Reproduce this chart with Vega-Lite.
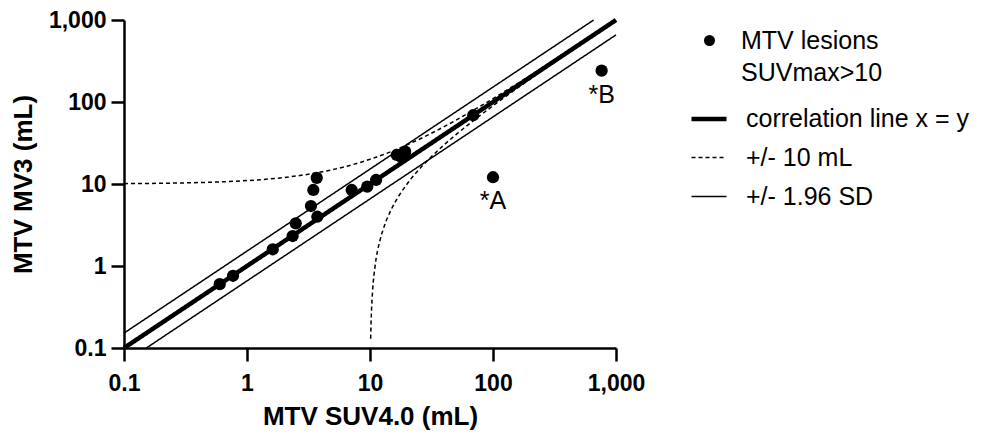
{
  "$schema": "https://vega.github.io/schema/vega-lite/v6.json",
  "width": 492,
  "height": 328,
  "autosize": "none",
  "padding": {"left": 124, "top": 20, "right": 379, "bottom": 94},
  "background": "white",
  "config": {
    "view": {"stroke": null},
    "font": "Liberation Sans",
    "style": {"guide-label": {"lineHeight": 32}},
    "axis": {
      "grid": false,
      "domainColor": "black",
      "domainWidth": 2.5,
      "tickColor": "black",
      "tickWidth": 2.5,
      "tickSize": 13,
      "labelFont": "Liberation Sans",
      "labelFontWeight": "bold",
      "labelFontSize": 23,
      "labelColor": "black",
      "titleFont": "Liberation Sans",
      "titleFontWeight": "bold",
      "titleFontSize": 26,
      "titleColor": "black"
    },
    "legend": {
      "labelFont": "Liberation Sans",
      "labelFontSize": 25,
      "labelColor": "black",
      "labelLimit": 400,
      "padding": 0
    }
  },
  "layer": [
    {
      "data": {"values": [
        {"series": "+/- 10 mL", "grp": "up", "x": 0.1, "y": 10.1},
        {"series": "+/- 10 mL", "grp": "up", "x": 0.2, "y": 10.2},
        {"series": "+/- 10 mL", "grp": "up", "x": 0.5, "y": 10.5},
        {"series": "+/- 10 mL", "grp": "up", "x": 1, "y": 11},
        {"series": "+/- 10 mL", "grp": "up", "x": 2, "y": 12},
        {"series": "+/- 10 mL", "grp": "up", "x": 3, "y": 13},
        {"series": "+/- 10 mL", "grp": "up", "x": 5, "y": 15},
        {"series": "+/- 10 mL", "grp": "up", "x": 7, "y": 17},
        {"series": "+/- 10 mL", "grp": "up", "x": 10, "y": 20},
        {"series": "+/- 10 mL", "grp": "up", "x": 15, "y": 25},
        {"series": "+/- 10 mL", "grp": "up", "x": 20, "y": 30},
        {"series": "+/- 10 mL", "grp": "up", "x": 30, "y": 40},
        {"series": "+/- 10 mL", "grp": "up", "x": 50, "y": 60},
        {"series": "+/- 10 mL", "grp": "up", "x": 70, "y": 80},
        {"series": "+/- 10 mL", "grp": "up", "x": 100, "y": 110},
        {"series": "+/- 10 mL", "grp": "up", "x": 200, "y": 210},
        {"series": "+/- 10 mL", "grp": "up", "x": 500, "y": 510},
        {"series": "+/- 10 mL", "grp": "up", "x": 990, "y": 1000},
        {"series": "+/- 10 mL", "grp": "lo", "x": 10.13, "y": 0.13},
        {"series": "+/- 10 mL", "grp": "lo", "x": 10.2, "y": 0.2},
        {"series": "+/- 10 mL", "grp": "lo", "x": 10.3, "y": 0.3},
        {"series": "+/- 10 mL", "grp": "lo", "x": 10.5, "y": 0.5},
        {"series": "+/- 10 mL", "grp": "lo", "x": 11, "y": 1},
        {"series": "+/- 10 mL", "grp": "lo", "x": 12, "y": 2},
        {"series": "+/- 10 mL", "grp": "lo", "x": 13, "y": 3},
        {"series": "+/- 10 mL", "grp": "lo", "x": 15, "y": 5},
        {"series": "+/- 10 mL", "grp": "lo", "x": 17, "y": 7},
        {"series": "+/- 10 mL", "grp": "lo", "x": 20, "y": 10},
        {"series": "+/- 10 mL", "grp": "lo", "x": 25, "y": 15},
        {"series": "+/- 10 mL", "grp": "lo", "x": 30, "y": 20},
        {"series": "+/- 10 mL", "grp": "lo", "x": 40, "y": 30},
        {"series": "+/- 10 mL", "grp": "lo", "x": 50, "y": 40},
        {"series": "+/- 10 mL", "grp": "lo", "x": 70, "y": 60},
        {"series": "+/- 10 mL", "grp": "lo", "x": 100, "y": 90},
        {"series": "+/- 10 mL", "grp": "lo", "x": 200, "y": 190},
        {"series": "+/- 10 mL", "grp": "lo", "x": 500, "y": 490},
        {"series": "+/- 10 mL", "grp": "lo", "x": 1000, "y": 990},
        {"series": "+/- 1.96 SD", "grp": "sdup", "x": 0.1, "y": 0.152},
        {"series": "+/- 1.96 SD", "grp": "sdup", "x": 658, "y": 1000},
        {"series": "+/- 1.96 SD", "grp": "sdlo", "x": 0.152, "y": 0.1},
        {"series": "+/- 1.96 SD", "grp": "sdlo", "x": 1000, "y": 658},
        {"series": "correlation line x = y", "grp": "id", "x": 0.1, "y": 0.1},
        {"series": "correlation line x = y", "grp": "id", "x": 1000, "y": 1000}
      ]},
      "mark": {"type": "line", "color": "black", "interpolate": "monotone"},
      "encoding": {
        "x": {"field": "x", "type": "quantitative"},
        "y": {"field": "y", "type": "quantitative"},
        "detail": {"field": "grp"},
        "strokeDash": {
          "field": "series", "type": "nominal",
          "scale": {
            "type": "ordinal",
            "domain": ["correlation line x = y", "+/- 10 mL", "+/- 1.96 SD"],
            "range": [[1, 0], [4, 3], [1, 0]]
          },
          "legend": {
            "title": null,
            "orient": "none",
            "legendX": 565,
            "legendY": 79,
            "symbolType": "stroke",
            "symbolSize": 1225,
            "symbolStrokeColor": "black",
            "labelOffset": 17,
            "rowPadding": 7
          }
        },
        "strokeWidth": {
          "field": "series", "type": "nominal",
          "scale": {
            "type": "ordinal",
            "domain": ["correlation line x = y", "+/- 10 mL", "+/- 1.96 SD"],
            "range": [4.5, 1.5, 1.5]
          },
          "legend": {
            "title": null,
            "orient": "none",
            "legendX": 565,
            "legendY": 79,
            "symbolType": "stroke",
            "symbolSize": 1225,
            "symbolStrokeColor": "black",
            "labelOffset": 17,
            "rowPadding": 7
          }
        }
      }
    },
    {
      "data": {"values": [
        {"series": "MTV lesions SUVmax>10", "x": 0.60, "y": 0.60},
        {"series": "MTV lesions SUVmax>10", "x": 0.77, "y": 0.76},
        {"series": "MTV lesions SUVmax>10", "x": 1.62, "y": 1.60},
        {"series": "MTV lesions SUVmax>10", "x": 2.35, "y": 2.32},
        {"series": "MTV lesions SUVmax>10", "x": 2.49, "y": 3.31},
        {"series": "MTV lesions SUVmax>10", "x": 3.31, "y": 5.39},
        {"series": "MTV lesions SUVmax>10", "x": 3.73, "y": 3.99},
        {"series": "MTV lesions SUVmax>10", "x": 3.69, "y": 11.9},
        {"series": "MTV lesions SUVmax>10", "x": 3.46, "y": 8.45},
        {"series": "MTV lesions SUVmax>10", "x": 7.1, "y": 8.45},
        {"series": "MTV lesions SUVmax>10", "x": 9.5, "y": 9.3},
        {"series": "MTV lesions SUVmax>10", "x": 11.2, "y": 11.2},
        {"series": "MTV lesions SUVmax>10", "x": 16.5, "y": 22.6},
        {"series": "MTV lesions SUVmax>10", "x": 17.8, "y": 21.5},
        {"series": "MTV lesions SUVmax>10", "x": 19.3, "y": 24.8},
        {"series": "MTV lesions SUVmax>10", "x": 69, "y": 69},
        {"series": "MTV lesions SUVmax>10", "x": 100, "y": 12.1},
        {"series": "MTV lesions SUVmax>10", "x": 764, "y": 241}
      ]},
      "mark": {"type": "point", "filled": true, "size": 150, "opacity": 1, "color": "black"},
      "encoding": {
        "x": {
          "field": "x", "type": "quantitative",
          "scale": {"type": "log", "domain": [0.1, 1000], "nice": false},
          "axis": {"values": [0.1, 1, 10, 100, 1000], "format": ",", "labelPadding": 11, "title": "MTV SUV4.0 (mL)", "titlePadding": 8, "labelFlush": false, "labelOverlap": false}
        },
        "y": {
          "field": "y", "type": "quantitative",
          "scale": {"type": "log", "domain": [0.1, 1000], "nice": false},
          "axis": {"values": [0.1, 1, 10, 100, 1000], "format": ",", "labelPadding": 5, "title": "MTV MV3 (mL)", "titlePadding": 12, "labelFlush": false, "labelOverlap": false}
        },
        "shape": {
          "field": "series", "type": "nominal",
          "scale": {"domain": ["MTV lesions SUVmax>10"], "range": ["circle"]},
          "legend": {
            "title": null,
            "orient": "none",
            "legendX": 573,
            "legendY": 8,
            "symbolSize": 121,
            "symbolFillColor": "black",
            "symbolStrokeWidth": 0,
            "labelOffset": 19,
            "labelExpr": "['MTV lesions', 'SUVmax>10']"
          }
        }
      }
    },
    {
      "data": {"values": [
        {"x": 100, "y": 12.1, "label": "*A"},
        {"x": 764, "y": 241, "label": "*B"}
      ]},
      "mark": {"type": "text", "dy": 24, "fontSize": 25, "font": "Liberation Sans", "color": "black"},
      "encoding": {
        "x": {"field": "x", "type": "quantitative"},
        "y": {"field": "y", "type": "quantitative"},
        "text": {"field": "label"}
      }
    }
  ]
}
